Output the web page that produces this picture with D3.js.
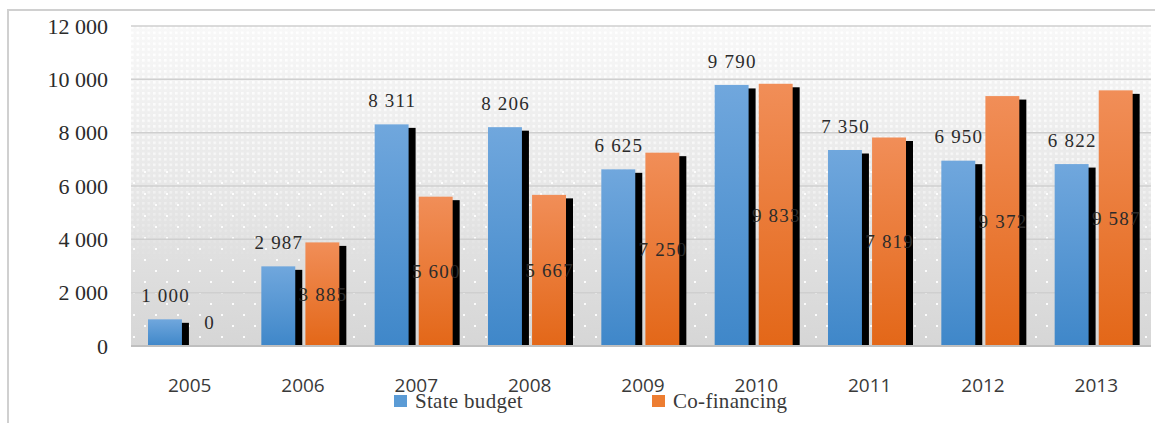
<!DOCTYPE html>
<html>
<head>
<meta charset="utf-8">
<script src="https://cdn.jsdelivr.net/npm/d3@7"></script>
<style>
  body { margin: 0; background: #fff; }
  svg { display: block; }
</style>
</head>
<body>
<div id="chart"></div>
<script>
  // data
  var years = ["2005", "2006", "2007", "2008", "2009", "2010", "2011", "2012", "2013"];
  var stateBudget = [1000, 2987, 8311, 8206, 6625, 9790, 7350, 6950, 6822];
  var coFinancing = [0, 3885, 5600, 5667, 7250, 9833, 7819, 9372, 9587];
  var seriesNames = ["State budget", "Co-financing"];
  var yTicks = [0, 2000, 4000, 6000, 8000, 10000, 12000];

  var W = 1155, H = 423;
  var margin = { top: 26, right: 4, bottom: 77, left: 131 };
  var width = W - margin.left - margin.right,
      height = H - margin.top - margin.bottom;

  var svg = d3.select("#chart")
      .append("svg")
      .attr("width", W)
      .attr("height", H);

  var defs = svg.append("defs");

  // background gradient of the plot area
  var bg = defs.append("linearGradient").attr("id", "bgGrad")
      .attr("x1", 0).attr("y1", 0).attr("x2", 0).attr("y2", 1);
  bg.append("stop").attr("offset", "0%").attr("stop-color", "#f8f8f8");
  bg.append("stop").attr("offset", "100%").attr("stop-color", "#d6d6d6");

  // dense white dots fading out toward the bottom
  var dense = defs.append("pattern").attr("id", "dense")
      .attr("patternUnits", "userSpaceOnUse")
      .attr("width", 5.5).attr("height", 5.5);
  dense.append("rect").attr("width", 2.6).attr("height", 2.6).attr("fill", "#fff");

  var fade = defs.append("linearGradient").attr("id", "fadeGrad")
      .attr("x1", 0).attr("y1", 0).attr("x2", 0).attr("y2", 1);
  fade.append("stop").attr("offset", "0%").attr("stop-color", "#fff").attr("stop-opacity", 0.95);
  fade.append("stop").attr("offset", "45%").attr("stop-color", "#fff").attr("stop-opacity", 0.55);
  fade.append("stop").attr("offset", "75%").attr("stop-color", "#fff").attr("stop-opacity", 0);
  var mask = defs.append("mask").attr("id", "fadeMask")
      .attr("maskUnits", "userSpaceOnUse")
      .attr("x", 0).attr("y", 0).attr("width", width).attr("height", height);
  mask.append("rect").attr("width", width).attr("height", height).attr("fill", "url(#fadeGrad)");

  // sparse dots for the lower part
  var sparse = defs.append("pattern").attr("id", "sparse")
      .attr("patternUnits", "userSpaceOnUse")
      .attr("width", 22).attr("height", 22);
  sparse.append("rect").attr("x", 2).attr("y", 2).attr("width", 2).attr("height", 2).attr("fill", "#fff");
  sparse.append("rect").attr("x", 13).attr("y", 13).attr("width", 2).attr("height", 2).attr("fill", "#fff");

  // bar gradients
  function barGrad(id, top, bottom) {
    var g = defs.append("linearGradient").attr("id", id)
        .attr("x1", 0).attr("y1", 0).attr("x2", 0).attr("y2", 1);
    g.append("stop").attr("offset", "0%").attr("stop-color", top);
    g.append("stop").attr("offset", "100%").attr("stop-color", bottom);
  }
  barGrad("blueGrad", "#70a7dd", "#3f87c9");
  barGrad("orangeGrad", "#f18e58", "#e36718");
  var fills = ["url(#blueGrad)", "url(#orangeGrad)"];
  var legendColors = ["#5b9bd5", "#ed7d31"];

  // outer border
  svg.append("rect")
      .attr("x", 8).attr("y", 10)
      .attr("width", 1200).attr("height", 450)
      .attr("fill", "none")
      .attr("stroke", "#d0d0d0")
      .attr("stroke-width", 2);

  var g = svg.append("g")
      .attr("transform", "translate(" + margin.left + "," + margin.top + ")");

  // scales
  var x0 = d3.scaleBand().domain(years).range([0, width]).padding(0);
  var x1 = d3.scaleBand().domain(seriesNames)
      .range([17, 95]).paddingInner(0.23).paddingOuter(0);
  var y = d3.scaleLinear().domain([0, 12000]).range([height, 0]);

  // plot background
  g.append("rect").attr("width", width).attr("height", height).attr("fill", "url(#bgGrad)");
  g.append("rect").attr("width", width).attr("height", height)
      .attr("fill", "url(#dense)").attr("mask", "url(#fadeMask)");
  g.append("rect").attr("y", height * 0.45).attr("width", width).attr("height", height * 0.55)
      .attr("fill", "url(#sparse)").attr("opacity", 0.9);

  // gridlines
  g.append("g")
      .selectAll("line")
      .data(yTicks.slice(1))
      .enter()
      .append("line")
      .attr("x1", 0).attr("x2", width)
      .attr("y1", function (d) { return y(d); })
      .attr("y2", function (d) { return y(d); })
      .attr("stroke", "#cfcfcf")
      .attr("stroke-width", 1.5);

  // y axis labels
  var yAxis = g.append("g")
      .attr("transform", "translate(-20,0)")
      .call(d3.axisLeft(y).tickValues(yTicks).tickSize(0)
          .tickFormat(function (d) { return d3.format(",")(d).replace(",", " "); }));
  yAxis.select(".domain").remove();
  yAxis.selectAll("text")
      .attr("font-family", "'Liberation Serif', 'Times New Roman', serif")
      .attr("font-size", 22)
      .attr("fill", "#2b2b2b");

  // rows of data
  var rows = years.map(function (yr, i) {
    return { year: yr, values: [stateBudget[i], coFinancing[i]] };
  });

  var groups = g.selectAll(".grp")
      .data(rows)
      .enter()
      .append("g")
      .attr("class", "grp")
      .attr("transform", function (d) { return "translate(" + x0(d.year) + ",0)"; });

  var bars = function (d) {
    return d.values.map(function (v, k) { return { series: seriesNames[k], k: k, value: v }; });
  };

  // black shadows first, then the bars
  groups.selectAll(".shadow")
      .data(bars)
      .enter()
      .append("rect")
      .attr("class", "shadow")
      .filter(function (d) { return d.value > 0; })
      .attr("x", function (d) { return x1(d.series) + 7; })
      .attr("y", function (d) { return y(d.value) + 3.5; })
      .attr("width", x1.bandwidth())
      .attr("height", function (d) { return height - y(d.value) - 3.5; })
      .attr("fill", "#000");

  groups.selectAll(".bar")
      .data(bars)
      .enter()
      .append("rect")
      .attr("class", "bar")
      .attr("x", function (d) { return x1(d.series); })
      .attr("y", function (d) { return y(d.value); })
      .attr("width", x1.bandwidth())
      .attr("height", function (d) { return height - y(d.value); })
      .attr("fill", function (d) { return fills[d.k]; });

  // baseline
  g.append("line")
      .attr("x1", 0).attr("x2", width)
      .attr("y1", height).attr("y2", height)
      .attr("stroke", "#bfbfbf")
      .attr("stroke-width", 2);

  // data labels: state budget above the bar, co-financing in the middle
  groups.selectAll(".lbl")
      .data(bars)
      .enter()
      .append("text")
      .attr("class", "lbl")
      .attr("x", function (d) { return x1(d.series) + x1.bandwidth() / 2 + 0.6; })
      .attr("y", function (d) {
        if (d.k === 0 || d.value === 0) return y(d.value) - 24;
        return (y(d.value) + height) / 2;
      })
      .attr("dy", "0.35em")
      .attr("text-anchor", "middle")
      .attr("font-family", "'Liberation Serif', 'Times New Roman', serif")
      .attr("font-size", 19)
      .attr("letter-spacing", 1.2)
      .attr("fill", "#2b2b2b")
      .text(function (d) { return d3.format(",")(d.value).replace(",", " "); });

  // x axis labels
  g.append("g")
      .selectAll("text")
      .data(years)
      .enter()
      .append("text")
      .attr("x", function (d) { return x0(d) + x0.bandwidth() / 2 + 2; })
      .attr("y", height + 39)
      .attr("dy", "0.35em")
      .attr("text-anchor", "middle")
      .attr("font-family", "'Open Sans', sans-serif")
      .attr("font-size", 19)
      .attr("fill", "#3a3a3a")
      .text(function (d) { return d; });

  // legend
  var legend = svg.append("g").attr("transform", "translate(394,395)");
  var items = legend.selectAll("g")
      .data(seriesNames)
      .enter()
      .append("g")
      .attr("transform", function (d, i) { return "translate(" + (i * 258) + ",0)"; });
  items.append("rect")
      .attr("width", 13).attr("height", 12)
      .attr("fill", function (d, i) { return legendColors[i]; });
  items.append("text")
      .attr("x", 21)
      .attr("y", 6)
      .attr("dy", "0.35em")
      .attr("font-family", "'Liberation Serif', 'Times New Roman', serif")
      .attr("font-size", 21)
      .attr("letter-spacing", 0.3)
      .attr("fill", "#3a3a3a")
      .text(function (d) { return d; });
</script>
</body>
</html>
